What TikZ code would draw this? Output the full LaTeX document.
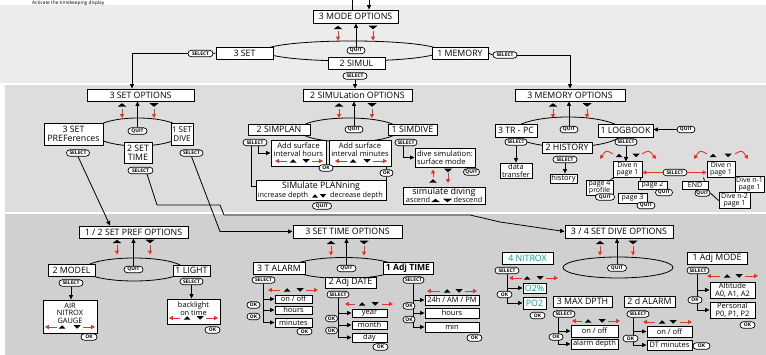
\documentclass[tikz,border=0pt]{standalone}
\usepackage{fontspec}
\setmainfont{Open Sans}
\usetikzlibrary{arrows.meta}
\pgfdeclarelayer{back}\pgfdeclarelayer{bg}\pgfsetlayers{back,bg,main}
\definecolor{bgA}{RGB}{236,236,237}
\definecolor{bgB}{RGB}{221,221,222}
\definecolor{bgC}{RGB}{208,208,209}
\definecolor{myred}{RGB}{233,50,42}
\definecolor{myteal}{RGB}{0,160,140}
\newcommand\Bx[7][]{\node[box,minimum width={(#5-#3)*1pt},minimum height={(#6-#4)*1pt},#1] (#2) at ({(#3+#5)/2},{(#4+#6)/2}) {#7};}
\newcommand\Pl[5]{\node[pill,minimum width=#4pt] (#1) at (#2,#3) {#5};}
\newcommand\TU[3][9]{\fill (#2-#1/2,#3+1.75) -- (#2+#1/2,#3+1.75) -- (#2,#3-1.75) -- cycle;}
\newcommand\TD[3][9]{\fill (#2-#1/2,#3-1.75) -- (#2+#1/2,#3-1.75) -- (#2,#3+1.75) -- cycle;}
\newcommand\Row[7]{\draw[redarr] (#3,#1) -- (#2,#1); \TU[7]{#4}{#1} \TD[7]{#5}{#1} \draw[redarr] (#6,#1) -- (#7,#1);}
\newcommand\Opt[3]{\TU{#1}{#3} \TD{#2}{#3} \draw[redarr] (#1,#3+4) -- (#1,#3+13); \draw[redarr] (#2,#3+4) -- (#2,#3+13);}
\begin{document}
\begin{tikzpicture}[x=1pt,y=-1pt,
  box/.style={draw, fill=white, line width=0.95pt, inner sep=0.5pt, align=center, font=\fontsize{8.8}{9.2}\selectfont},
  sbox/.style={font=\fontsize{7.5}{7.8}\selectfont},
  tbox/.style={font=\fontsize{7}{7.3}\selectfont},
  pill/.style={draw, fill=white, line width=0.7pt, rounded corners=3.2pt, inner sep=0pt, minimum height=6.4pt, font=\fontsize{4.9}{5}\selectfont\bfseries},
  txt/.style={inner sep=0pt, align=center, font=\fontsize{7.6}{8}\selectfont},
  ln/.style={line width=0.8pt},
  arr/.style={ln, -{Triangle[length=4.5pt,width=4.2pt]}},
  redarr/.style={myred, line width=0.9pt, -{Triangle[length=3.8pt,width=4pt]}}]
\useasboundingbox (0,0) rectangle (766,355);
\begin{pgfonlayer}{back}
\fill[white] (0,0) rectangle (766,355);
\fill[bgA] (0,5) rectangle (766,83);
\fill[bgB] (5,85) rectangle (766,212);
\fill[bgC] (5,214) rectangle (766,355);
\end{pgfonlayer}
\node[anchor=base west, inner sep=0, font=\fontsize{4.8}{5}\selectfont] (head) at (32,4.1) {Activate the timekeeping display};

% ---------------- panel 1
\draw[ln] (352,51) ellipse [x radius=88pt, y radius=10pt];
\Bx{mode}{313}{10}{398}{23}{3 MODE OPTIONS}
\Opt{338}{373}{27.5}
\Bx{set}{216}{47}{273}{59}{3 SET}
\Bx{simul}{328}{57}{385}{69}{2 SIMUL}
\Bx{mem}{432}{47}{488}{59}{1 MEMORY}
\Pl{qM}{356}{50.5}{18}{QUIT}
\Pl{sA}{200.5}{53.5}{25}{SELECT}
\Pl{sB}{355}{76}{24}{SELECT}
\Pl{sC}{505}{55}{24}{SELECT}
\coordinate (topA) at (352,-2);
\coordinate (topB) at (369,-2);

% ---------------- panel 2: set
\draw[ln] (138,132) ellipse [x radius=45pt, y radius=14pt];
\Bx{setopt}{87}{89}{194}{101}{3 SET OPTIONS}
\Opt{122}{154}{105}
\Bx{pref}{44}{123}{103}{145}{3 SET\\PREFerences}
\Bx{stime}{124}{142}{152}{163}{2 SET\\TIME}
\Bx[font=\fontsize{8}{8.6}\selectfont]{sdive}{171}{123}{193}{145}{1 SET\\DIVE}
\Pl{qS}{137.5}{131}{19}{QUIT}
\Pl{sP}{78}{153}{23}{SELECT}
\Pl{sT}{140.5}{170.5}{25}{SELECT}
\Pl{sD}{191.5}{153}{23}{SELECT}

% ---------------- panel 2: simul
\draw[ln] (349,130) ellipse [x radius=50pt, y radius=12pt];
\Bx{simopt}{303}{89}{412}{101}{2 SIMULation OPTIONS}
\Opt{339}{372}{105}
\Bx{simplan}{248}{124}{310}{135}{2 SIMPLAN}
\Bx{simdive}{388}{124}{437}{135}{1 SIMDIVE}
\Pl{qSim}{354}{129.5}{18}{QUIT}
\Pl{sSP}{255}{142.5}{24}{SELECT}
\Pl{sSD}{406}{142.5}{22}{SELECT}
\Bx{addh}{271}{140}{326}{166}{}
\node[txt] (addht) at (298.5,149.5) {Add surface\\interval hours};
\Row{161}{275}{287}{293}{306}{312}{323}
\Bx{addm}{329}{140}{391}{166}{}
\node[txt] (addmt) at (360,149.5) {Add surface\\interval minutes};
\Row{161}{335}{347}{353}{367}{373}{387}
\Pl{okA}{326}{168}{14}{OK}
\Pl{okB}{386.5}{173}{13}{OK}
\Bx{splan}{256}{180}{386}{200}{}
\node[txt, font=\fontsize{8.8}{9}\selectfont] (splant) at (321,186) {SIMulate PLANning};
\node[txt, font=\fontsize{7.3}{8}\selectfont] (incd) at (283,196) {increase depth};
\TU[6]{315}{196} \TD[6]{323}{196}
\node[txt, font=\fontsize{7.3}{8}\selectfont] (decd) at (356.5,196) {decrease depth};
\Pl{qSP}{322}{206}{19}{QUIT}
\Bx[align=left, font=\fontsize{7.6}{8}\selectfont]{dsurf}{415}{148}{475}{167}{dive simulation:\\surface mode}
\Pl{qSD}{471.5}{172}{16}{QUIT}
\draw[redarr] (433,177.5) -- (433,169.5);
\TU[8]{433}{181}
\TD[8]{448}{170.5}
\draw[redarr] (448,173.5) -- (448,183);
\Bx{sdiv}{403}{187}{485}{204}{}
\node[txt, font=\fontsize{9}{9}\selectfont] (sdivt) at (444,192) {simulate diving};
\node[txt, font=\fontsize{7.3}{8}\selectfont] (asc) at (418,200) {ascend};
\TU[9]{435.5}{200.5} \TD[9]{447.5}{200.5}
\node[txt, font=\fontsize{7.3}{8}\selectfont] (desc) at (468,200) {descend};

% ---------------- panel 2: memory
\draw[ln] (568,132) ellipse [x radius=55pt, y radius=15pt];
\Bx{memopt}{515}{89}{625}{101}{3 MEMORY OPTIONS}
\Opt{553}{587}{105}
\Bx{trpc}{495}{124}{537}{137}{3 TR - PC}
\Bx{logbook}{598}{124}{653}{137}{1 LOGBOOK}
\Bx{history}{542}{142}{592}{153}{2 HISTORY}
\Pl{qMem}{569}{129.5}{18}{QUIT}
\Pl{qLB}{686}{129.5}{18}{QUIT}
\Pl{sTR}{516}{142}{22}{SELECT}
\Pl{sH}{565}{159.5}{24}{SELECT}
\Pl{sLB}{626}{142}{22}{SELECT}
\Bx[sbox]{dtr}{500}{163}{532}{178}{data\\transfer}
\Bx[sbox]{hist}{550}{174}{577}{183}{history}
\Bx[tbox]{dnA}{613}{162}{642}{177}{Dive n\\page 1}
\Bx[tbox]{dnB}{707}{162}{735}{177}{Dive n\\page 1}
\TU[7]{619}{155.5} \TD[7]{636}{155.5}
\TU[7]{713}{155.5} \TD[7]{728}{155.5}
\draw[redarr] (613,154) .. controls (606,150) .. (600,159);
\draw[redarr] (642,154) .. controls (649,150) .. (656,159);
\draw[redarr] (707,154) .. controls (700,150) .. (694,159);
\draw[redarr] (735,154) .. controls (742,150) .. (748,159);
\Pl{sDD}{675}{172.5}{24}{SELECT}
\Bx[tbox]{pg4}{586}{180}{613}{195}{page 4\\profile}
\Bx[tbox]{pg2}{638}{181}{667}{189}{page 2}
\Bx[tbox]{pg3}{618}{193}{647}{203}{page 3}
\Pl{qP4}{605}{197}{19}{QUIT}
\Pl{qP2}{664}{192.5}{17}{QUIT}
\Pl{qP3}{646}{205.5}{18}{QUIT}
\Bx[tbox]{endb}{682}{181}{708}{189}{END}
\Pl{qEnd}{702.5}{193}{15}{QUIT}
\Bx[tbox]{dn1}{735}{177}{764}{192}{Dive n-1\\page 1}
\Bx[tbox]{dn2}{719}{193}{750}{208}{Dive n-2\\page 1}

% ---------------- panel 3: pref
\draw[ln] (134,269.5) ellipse [x radius=50pt, y radius=11.5pt];
\Bx{prefopt}{79}{226}{188}{238}{1 / 2 SET PREF OPTIONS}
\Opt{117}{150}{241.5}
\Bx{model}{48}{264}{95}{276}{2 MODEL}
\Bx{light}{173}{265}{210}{276}{1 LIGHT}
\Pl{qPr}{133.5}{269.5}{19}{QUIT}
\Pl{sMo}{71}{283}{24}{SELECT}
\Pl{sLi}{191.5}{281.5}{23}{SELECT}
\Bx{air}{43}{300}{97}{333}{}
\node[txt, font=\fontsize{7.4}{7.6}\selectfont] (airt) at (70,313) {AIR\\NITROX\\GAUGE};
\Row{327}{45}{57}{62}{77}{83}{95}
\Pl{okAir}{89}{337}{16}{OK}
\Bx{blt}{167}{299}{220}{324}{}
\node[txt, font=\fontsize{7.4}{7.6}\selectfont] (bltt) at (193.5,308.5) {backlight\\on time};
\Row{318}{169}{180}{187}{200}{206}{218}
\Pl{okBl}{212.5}{330}{15}{OK}

% ---------------- panel 3: time
\draw[ln] (344,268) ellipse [x radius=52pt, y radius=10.5pt];
\Bx{timeopt}{293}{225}{402}{238}{3 SET TIME OPTIONS}
\Opt{331}{364}{242.5}
\Bx{talarm}{253}{262}{305}{274}{3 T ALARM}
\Bx[font=\fontsize{8.6}{9}\selectfont\bfseries]{adjtime}{383}{262}{433}{274}{1 Adj TIME}
\Bx{adjdate}{325}{277}{376}{288}{2 Adj DATE}
\Pl{qT}{346.5}{268.5}{19}{QUIT}
\Pl{sTA}{263.5}{280}{23}{SELECT}
\Pl{sAD}{338}{294.5}{22}{SELECT}
\Pl{sAT}{413.5}{280}{21}{SELECT}
\Bx[sbox]{onA}{275}{295}{312}{303}{on / off}
\Bx[sbox]{hrA}{275}{306}{312}{314}{hours}
\Bx[sbox]{mnA}{275}{318}{312}{327}{minutes}
\Row{290}{268}{280}{287}{300}{306}{318}
\Pl{okTA1}{253.5}{305}{13}{OK}
\Pl{okTA2}{253.5}{316.5}{13}{OK}
\Pl{okTA3}{304.5}{331.5}{15}{OK}
\Bx[sbox]{yr}{352}{309}{387}{317}{year}
\Bx[sbox]{mo}{352}{321}{387}{329}{month}
\Bx[sbox]{dy}{352}{333}{387}{342}{day}
\Row{304}{345}{355}{362}{375}{382}{393}
\Pl{okD1}{331.5}{318.5}{12}{OK}
\Pl{okD2}{331.5}{330.5}{12}{OK}
\Pl{okD3}{380.5}{347}{15}{OK}
\Bx[sbox]{hTF}{425}{295}{479}{305}{24h / AM / PM}
\Bx[sbox]{hrB}{425}{308}{479}{318}{hours}
\Bx[sbox]{mnB}{425}{322}{479}{332}{min}
\Row{291}{427}{440}{447}{459}{465}{477}
\Pl{okT1}{409}{306}{12}{OK}
\Pl{okT2}{409}{319.5}{12}{OK}
\Pl{okT3}{474.5}{338}{15}{OK}

% ---------------- panel 3: dive
\draw[ln] (618,267.5) ellipse [x radius=55pt, y radius=10.5pt];
\Bx{diveopt}{565}{225}{673}{238}{3 / 4 SET DIVE OPTIONS}
\Opt{600}{633}{242.5}
\Pl{qDv}{617}{268}{19}{QUIT}
\Bx[text=myteal]{nitrox}{502}{252}{553}{264}{4 NITROX}
\Pl{sN}{507}{270.5}{24}{SELECT}
\Bx[text=myteal]{otwo}{523}{283}{546}{293}{O2\%}
\Bx[text=myteal]{potwo}{523}{297}{546}{309}{PO2}
\Row{278}{509}{522}{527}{540}{546}{558}
\Pl{okN1}{504.5}{294.5}{15}{OK}
\Pl{okN2}{537.5}{315.5}{15}{OK}
\Bx{maxd}{553}{296}{612}{307}{3 MAX DPTH}
\Pl{sMx}{564}{314}{22}{SELECT}
\Bx[sbox]{onC}{571}{325}{618}{337}{on / off}
\Bx[sbox]{ald}{571}{339}{618}{349}{alarm depth}
\Row{321}{572}{582}{588}{602}{608}{620}
\Pl{okM}{556}{337}{14}{OK}
\Bx{dal}{624}{296}{675}{307}{2 d ALARM}
\Pl{sDa}{638}{314}{22}{SELECT}
\Bx[sbox]{onD}{647}{326}{692}{337}{on / off}
\Bx[sbox]{dtm}{647}{340}{692}{350}{DT minutes}
\Row{322}{643}{655}{662}{673}{680}{692}
\Pl{okDa1}{630.5}{338.5}{15}{OK}
\Pl{okDa2}{701.5}{346}{17}{OK}
\Bx{amode}{687}{252}{747}{264}{1 Adj MODE}
\Pl{sAm}{698}{270.5}{22}{SELECT}
\Bx[sbox]{alt}{710}{282}{755}{298}{Altitude\\A0, A1, A2}
\Bx[sbox]{pers}{710}{302}{755}{318}{Personal\\P0, P1, P2}
\Row{276}{707}{720}{727}{739}{745}{758}
\Pl{okAm1}{695}{300}{14}{OK}
\Pl{okAm2}{747.5}{325}{15}{OK}

% ---------------- connectors
\coordinate (kA) at (157,205);
\coordinate (kB) at (220,205);
\coordinate (kC) at (224,215);
\coordinate (kD) at (470,215);
\coordinate (kE) at (500,222);
\coordinate (kF) at (220,231.5);
\coordinate (spL) at (270,186);
\coordinate (spR) at (371,186);
\begin{pgfonlayer}{bg}
\draw[ln] (topA) -- (topA |- mode.north);
\draw[arr] (topB) -- (topB |- mode.north);
\draw[arr] (qM.north) -- (qM.north |- mode.south);
\draw[ln] (set.west) -- (sA.east);
\draw[arr] (sA.west) -| ([xshift=-8.5pt]setopt.north);
\draw[ln] (mem.east) -- (sC.west);
\draw[arr] (sC.east) -| (memopt.north);
\draw[arr] (sB.south) -- (sB.south |- simopt.north);
% set
\draw[arr] (qS.north) -- (qS.north |- setopt.south);
\draw[arr] (sP.south) -- ([xshift=-23.5pt]prefopt.north);
\draw[arr] ([xshift=6.5pt]sT.south) -- (kA) -- (kB) -- (kC) -- (kD) -- (kE) -- (diveopt.west);
\draw[arr] (sD.south) -- (kF) -- (timeopt.west);
% simul
\draw[arr] (qSim.north) -- (qSim.north |- simopt.south);
\draw[arr] ([xshift=-4pt]sSP.south) |- (spL);
\draw[arr] ([xshift=3pt]sSP.south) |- (addh.west);
\draw[arr] ([xshift=-3pt]sSD.south) |- (dsurf.west);
\draw[ln] (okB.north |- addm.south) -- (okB.north);
\draw[arr] (okB.south) |- (spR);
% memory
\draw[arr] (qMem.north) -- (qMem.north |- memopt.south);
\draw[arr] (qLB.west) -- (qLB.west -| logbook.east);
\draw[arr] (sTR.south) -- (sTR.south |- dtr.north);
\draw[arr] (sH.south) -- (sH.south |- hist.north);
\draw[arr] (sLB.south) -- (sLB.south |- dnA.north);
\draw[redarr] (sDD.west) -- (sDD.west -| dnA.east);
\draw[redarr] (sDD.east) -- (sDD.east -| dnB.west);
\draw[ln] ([xshift=2pt]dnA.south west) -- ([xshift=-3pt]pg4.north east);
\draw[ln] ([xshift=-2pt]dnA.south east) -- ([xshift=3pt]pg2.north west);
\draw[ln] ([xshift=-3pt]dnB.south west) -- ([xshift=-4pt]endb.north east);
\draw[ln] (qEnd.east) -- (dn2.west);
% pref
\draw[arr] (qPr.north) -- (qPr.north |- prefopt.south);
\draw[arr] (sMo.south) -- (sMo.south |- air.north);
\draw[arr] (sLi.south) -- (sLi.south |- blt.north);
% time
\draw[arr] (qT.north) -- (qT.north |- timeopt.south);
\draw[arr] (sTA.south) |- (onA.west);
\draw[arr] (sTA.south) |- (hrA.west);
\draw[arr] (sTA.south) |- (mnA.west);
\draw[arr] (sAD.south) |- (yr.west);
\draw[arr] (sAD.south) |- (mo.west);
\draw[arr] (sAD.south) |- (dy.west);
\draw[arr] (sAT.south) |- (hTF.west);
\draw[arr] (sAT.south) |- (hrB.west);
\draw[arr] (sAT.south) |- (mnB.west);
% dive
\draw[arr] (qDv.north) -- (qDv.north |- diveopt.south);
\draw[arr] (sN.south) |- (otwo.west);
\draw[arr] (sN.south) |- (potwo.west);
\draw[arr] ([xshift=-6pt]sMx.south) |- (onC.west);
\draw[arr] ([xshift=-6pt]sMx.south) |- (ald.west);
\draw[arr] ([xshift=-5pt]sDa.south) |- (onD.west);
\draw[arr] ([xshift=-5pt]sDa.south) |- (dtm.west);
\draw[arr] ([xshift=-1pt]sAm.south) |- (alt.west);
\draw[arr] ([xshift=-1pt]sAm.south) |- (pers.west);
\end{pgfonlayer}
\end{tikzpicture}
\end{document}
